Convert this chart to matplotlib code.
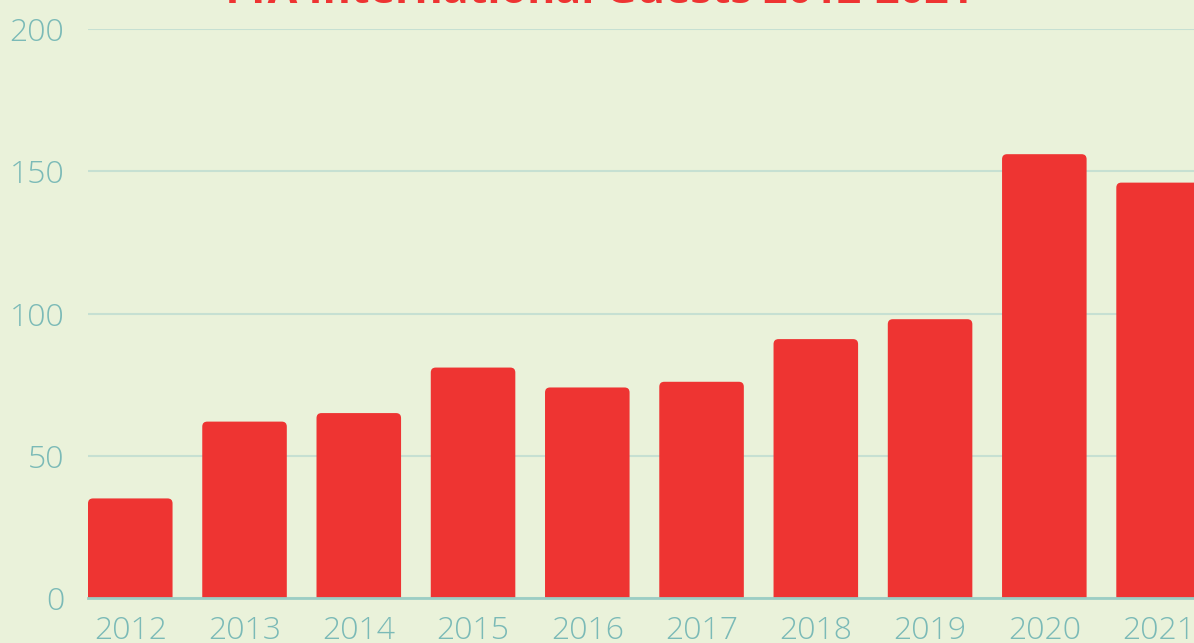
import matplotlib.pyplot as plt
from matplotlib.patches import FancyBboxPatch

years = ["2012", "2013", "2014", "2015", "2016", "2017", "2018", "2019", "2020", "2021"]
guests = [35, 62, 65, 81, 74, 76, 91, 98, 156, 146]
yticks = [0, 50, 100, 150, 200]

bg = "#EAF2DA"
red = "#EE3432"
tick_col = "#7BBAB7"
grid_col = "#C6E0D2"

plt.rcParams['font.family'] = ['Open Sans', 'DejaVu Sans']

fig = plt.figure(figsize=(11.94, 6.43), dpi=100, facecolor=bg)
ax = fig.add_axes([88 / 1194, 45 / 643, 1 - 88 / 1194, 569 / 643])
ax.set_facecolor(bg)

x = list(range(len(years)))
bars = ax.bar(x, guests, width=0.74, color=red, zorder=3)

# swap plain rectangles for ones with rounded top corners
ax.set_xlim(-0.37, 9.31)
ax.set_ylim(0, 200)
px_x = (9.31 + 0.37) / 1106
px_y = 200 / 569
r = 5 * px_x
for b in bars:
    bx, w, h = b.get_x(), b.get_width(), b.get_height()
    b.remove()
    p = FancyBboxPatch((bx, -10), w, h + 10,
                       boxstyle=f"round,pad=0,rounding_size={r}",
                       mutation_aspect=px_y / px_x,
                       facecolor=red, edgecolor="none", zorder=3)
    ax.add_patch(p)

ax.set_xticks(x)
ax.set_xticklabels(years)
ax.set_yticks(yticks)
ax.tick_params(length=0, labelsize=23, labelcolor=tick_col)
ax.tick_params(axis="y", pad=17)
ax.tick_params(axis="x", pad=12)
for lbl in ax.get_xticklabels() + ax.get_yticklabels():
    lbl.set_fontweight("light")

ax.grid(axis="y", color=grid_col, linewidth=1.5, zorder=0)
for s in ["top", "right", "left"]:
    ax.spines[s].set_visible(False)
ax.spines["bottom"].set_color("#9CCDC4")
ax.spines["bottom"].set_linewidth(2)
ax.spines["bottom"].set_zorder(4)

fig.text(0.5, 1 - 3 / 643, "TTA International Guests 2012-2021",
         ha="center", va="baseline", fontsize=31, fontweight="bold", color=red)

fig.savefig("out.png", dpi=100, facecolor=bg)
